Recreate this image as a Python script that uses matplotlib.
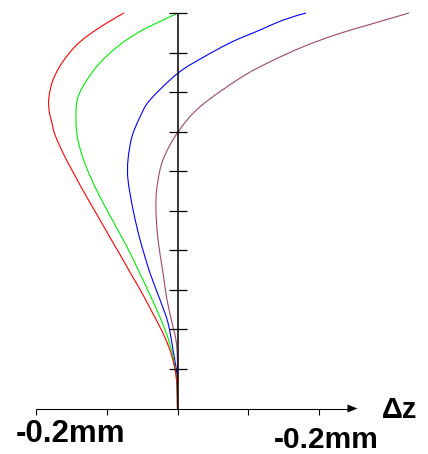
import matplotlib
matplotlib.use("Agg")
import matplotlib.pyplot as plt
from matplotlib.path import Path
from matplotlib.patches import PathPatch
import numpy as np

# Data: x offset in mm, height in tick units (0..10)
red_x = [-0.0758, -0.0999, -0.1261, -0.1452, -0.1636, -0.1763, -0.182, -0.182, -0.1778,
         -0.1735, -0.1608, -0.1459, -0.1303, -0.114, -0.0977, -0.0814, -0.0652, -0.0531,
         -0.0354, -0.0184, -0.0078, -0.0014, 0.0]
red_y = [10.0, 9.75, 9.44, 9.15, 8.74, 8.31, 7.88, 7.55, 7.22, 6.92, 6.41, 5.91, 5.40,
         4.90, 4.39, 3.89, 3.38, 3.01, 2.42, 1.82, 1.31, 0.73, 0.0]

green_x = [0.0007, -0.029, -0.0574, -0.0857, -0.1098, -0.1282, -0.1409, -0.1438,
           -0.1424, -0.1353, -0.1246, -0.1112, -0.0963, -0.0807, -0.0659, -0.0524, -0.0425,
           -0.0276, -0.0142, -0.0064, -0.0014, 0.0]
green_y = [10.0, 9.75, 9.49, 9.14, 8.74, 8.31, 7.88, 7.47, 6.92, 6.41, 5.91, 5.40, 4.90,
           4.39, 3.89, 3.38, 3.01, 2.42, 1.82, 1.31, 0.73, 0.0]

blue_x = [0.182, 0.1494, 0.1169, 0.0772, 0.0375, 0.0007, -0.039, -0.0531, -0.0645, -0.0701,
          -0.0701, -0.063, -0.0531, -0.039, -0.0248, -0.0135, -0.0064, -0.0007, 0.0]
blue_y = [10.0, 9.82, 9.57, 9.27, 8.89, 8.48, 7.80, 7.37, 6.87, 6.29, 5.78, 5.03, 4.27,
          3.43, 2.75, 2.17, 1.49, 0.81, 0.0]

purple_x = [0.3279, 0.2705, 0.2238, 0.1771, 0.1303, 0.0892, 0.0319, 0.0007, -0.0205,
            -0.029, -0.0305, -0.0276, -0.0205, -0.0149, -0.0078, -0.0007, 0.0]
purple_y = [10.0, 9.70, 9.45, 9.14, 8.76, 8.36, 7.63, 6.99, 6.29, 5.61, 5.03, 4.27,
            3.43, 2.75, 2.17, 1.49, 0.0]

x_ticks = [-0.2, -0.1, 0.0, 0.1, 0.2]
y_ticks = [1, 2, 3, 4, 5, 6, 7, 8, 9, 10]
left_label = "-0.2mm"
right_label = "-0.2mm"
axis_label = "\u0394z"


def smooth_path(xs, ys):
    """Catmull-Rom rendering of the read points as cubic Bezier segments."""
    p = np.column_stack([xs, ys]).astype(float)
    p = np.vstack([p[0], p, p[-1]])
    verts = [p[1]]
    codes = [Path.MOVETO]
    for i in range(1, len(p) - 2):
        c1 = p[i] + (p[i + 1] - p[i - 1]) / 6.0
        c2 = p[i + 1] - (p[i + 2] - p[i]) / 6.0
        verts += [c1, c2, p[i + 1]]
        codes += [Path.CURVE4] * 3
    return Path(verts, codes)


W, H = 428, 454
fig = plt.figure(figsize=(W / 100, H / 100), dpi=100)
ax = fig.add_axes([0, 0, 1, 1])
ax.set_axis_off()
X0, SX = 177.5, 706.0   # px of x=0, px per mm
Y0, SY = 408.5, 39.55   # px of y=0, px per tick unit
ax.set_xlim((0 - X0) / SX, (W - X0) / SX)
ax.set_ylim((Y0 - H) / SY, Y0 / SY)

# vertical axis
ax.plot([0, 0], [0, 10], color="black", lw=1.1, solid_capstyle="butt")
for t in y_ticks:
    ax.plot([-9 / SX, 9 / SX], [t, t], color="black", lw=0.9, solid_capstyle="butt")

# horizontal axis with arrow
tip = (357.5 - X0) / SX
hl = 10 / SX
hw = 4 / SY
ax.plot([x_ticks[0], tip - hl], [0, 0], color="black", lw=0.8, solid_capstyle="butt")
ax.fill([tip - hl, tip, tip - hl], [hw, 0, -hw], color="black", lw=0)
for t in x_ticks:
    ax.plot([t, t], [0, -6 / SY], color="black", lw=0.8, solid_capstyle="butt")

lw = 0.8
for xs, ys, c in [(purple_x, purple_y, "#a0466e"), (blue_x, blue_y, "#0000ff"),
                  (green_x, green_y, "#00f000"), (red_x, red_y, "#ff0000")]:
    ax.add_patch(PathPatch(smooth_path(xs, ys), facecolor="none", edgecolor=c, lw=lw))

fp = dict(family=["Liberation Sans", "DejaVu Sans"], fontweight="bold")
ax.text((71 - X0) / SX, (Y0 - 434.5) / SY, left_label, fontsize=22.5, ha="center", va="center", **fp)
ax.text((326.5 - X0) / SX, (Y0 - 439.5) / SY, right_label, fontsize=21.5, ha="center", va="center", **fp)
ax.text((399.5 - X0) / SX, (Y0 - 410.5) / SY, axis_label, fontsize=21, ha="center", va="center", **fp)

fig.savefig("out.png", dpi=100)
